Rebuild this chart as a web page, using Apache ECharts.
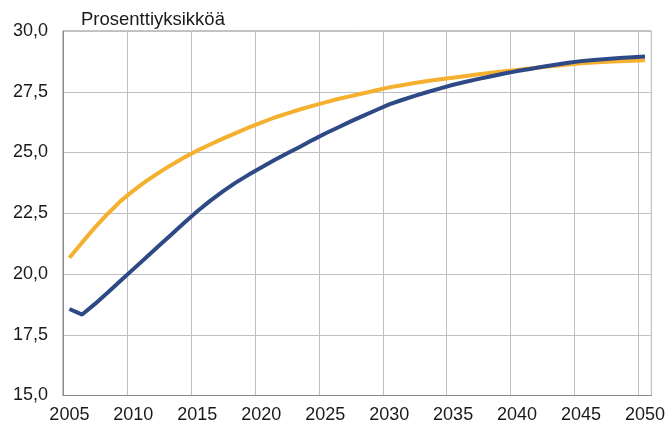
<!DOCTYPE html>
<html>
<head>
<meta charset="utf-8">
<script src="https://cdn.jsdelivr.net/npm/echarts@6/dist/echarts.min.js"></script>
<style>
html,body{margin:0;padding:0;background:#fff;}
#c{width:668px;height:434px;}
</style>
</head>
<body>
<div id="c"></div>
<script>
var years = [];
for (var y = 2005; y <= 2050; y++) years.push(String(y));

var blueSeries = [18.56,18.33,18.77,19.24,19.72,20.2,20.68,21.16,21.64,22.12,
  22.58,23.01,23.4,23.76,24.08,24.38,24.68,24.96,25.23,25.51,
  25.78,26.03,26.28,26.52,26.75,26.98,27.16,27.33,27.49,27.64,
  27.79,27.91,28.03,28.14,28.25,28.35,28.44,28.53,28.61,28.69,
  28.76,28.81,28.85,28.89,28.92,28.95];

var orangeSeries = [20.67,21.3,21.92,22.48,23.0,23.43,23.82,24.17,24.5,24.8,
  25.08,25.33,25.57,25.8,26.02,26.23,26.43,26.6,26.77,26.92,
  27.06,27.2,27.32,27.44,27.56,27.68,27.77,27.86,27.94,28.01,
  28.08,28.15,28.22,28.28,28.34,28.4,28.46,28.52,28.57,28.62,
  28.67,28.7,28.73,28.76,28.78,28.8];

var yMin = 15, yMax = 30, yStep = 2.5;
var unitLabel = 'Prosenttiyksikköä';

var chart = echarts.init(document.getElementById('c'), null, {renderer: 'canvas'});
chart.setOption({
  animation: false,
  backgroundColor: '#ffffff',
  textStyle: {fontFamily: 'Liberation Sans, Arial, sans-serif'},
  title: {
    text: unitLabel,
    left: 76, top: 5,
    textStyle: {fontSize: 18.5, fontWeight: 'normal', color: '#1a1a1a', fontFamily: 'Liberation Sans, Arial, sans-serif'}
  },
  grid: {
    left: 63, right: 16, top: 31, bottom: 38.5,
    show: true, borderColor: '#8a8a8a', borderWidth: 1, containLabel: false
  },
  xAxis: {
    type: 'category',
    data: years,
    boundaryGap: true,
    axisLine: {show: true, lineStyle: {color: '#8a8a8a', width: 1}},
    axisTick: {show: false},
    axisLabel: {interval: 4, color: '#1a1a1a', fontSize: 18, margin: 11},
    splitLine: {show: true, interval: 4, lineStyle: {color: '#c0c0c0', width: 1}}
  },
  yAxis: {
    type: 'value',
    min: yMin, max: yMax, interval: yStep,
    axisLine: {show: true, lineStyle: {color: '#8a8a8a', width: 1}},
    axisTick: {show: false},
    axisLabel: {
      color: '#1a1a1a', fontSize: 18, margin: 15,
      formatter: function (v) { return v.toFixed(1).replace('.', ','); }
    },
    splitLine: {show: true, lineStyle: {color: '#c0c0c0', width: 1}}
  },
  series: [
    {
      type: 'line', data: orangeSeries, symbol: 'none', smooth: false,
      lineStyle: {color: '#F4B02E', width: 4}, z: 2
    },
    {
      type: 'line', data: blueSeries, symbol: 'none', smooth: false,
      lineStyle: {color: '#2E4A86', width: 4}, z: 3
    }
  ]
});
</script>
</body>
</html>
